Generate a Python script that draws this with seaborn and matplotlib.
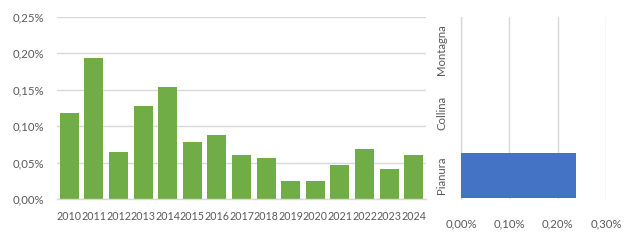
import matplotlib
matplotlib.use("Agg")
import matplotlib.pyplot as plt
from matplotlib.ticker import FuncFormatter, MultipleLocator
import seaborn as sns
import pandas as pd

years = ["2010", "2011", "2012", "2013", "2014", "2015", "2016", "2017",
         "2018", "2019", "2020", "2021", "2022", "2023", "2024"]
year_values = [0.118, 0.194, 0.065, 0.128, 0.154, 0.078, 0.088, 0.060,
               0.056, 0.025, 0.025, 0.047, 0.069, 0.041, 0.060]  # percent

zones = ["Montagna", "Collina", "Pianura"]
zone_values = [0.0, 0.0, 0.237]  # percent

GREEN = "#70AD47"
BLUE = "#4472C4"
TEXT = "#595959"
GRID = "#D9D9D9"

sns.set_theme(style="white")
plt.rcParams["font.family"] = ["Lato", "DejaVu Sans"]

fig = plt.figure(figsize=(6.3, 2.4), dpi=100)

def pct(v, _):
    return f"{v:.2f}%".replace(".", ",")

# Left chart
ax1 = fig.add_axes([57 / 630, 1 - 199 / 240, (426 - 57) / 630, (199 - 17) / 240])
df1 = pd.DataFrame({"year": years, "value": year_values})
sns.barplot(data=df1, x="year", y="value", ax=ax1, color=GREEN, width=0.78,
            saturation=1, linewidth=0)
ax1.set_ylim(0, 0.25)
ax1.set_xlim(-0.5, len(years) - 0.5)
ax1.yaxis.set_major_locator(MultipleLocator(0.05))
ax1.yaxis.set_major_formatter(FuncFormatter(pct))
ax1.grid(axis="y", color=GRID, linewidth=1)
ax1.set_axisbelow(True)
for s in ["top", "right", "left"]:
    ax1.spines[s].set_visible(False)
ax1.spines["bottom"].set_color(GRID)
ax1.spines["bottom"].set_linewidth(1)
ax1.set_xlabel("")
ax1.set_ylabel("")
ax1.tick_params(axis="both", length=0, colors=TEXT)
ax1.tick_params(axis="x", labelsize=7.7, pad=9)
ax1.tick_params(axis="y", labelsize=8.2, pad=9)

# Right chart
ax2 = fig.add_axes([461 / 630, 1 - 199 / 240, (606 - 461) / 630, (199 - 17) / 240])
df2 = pd.DataFrame({"zone": zones, "value": zone_values})
sns.barplot(data=df2, y="zone", x="value", ax=ax2, color=BLUE, width=0.72,
            saturation=1, orient="h", linewidth=0)
ax2.set_xlim(0, 0.30)
ax2.set_ylim(2.375, -0.526)
ax2.xaxis.set_major_locator(MultipleLocator(0.10))
ax2.xaxis.set_major_formatter(FuncFormatter(pct))
ax2.grid(axis="x", color=GRID, linewidth=1)
ax2.set_axisbelow(True)
ax2.axvline(0, color=GRID, linewidth=1, zorder=0.5, clip_on=False)
for s in ["top", "right", "left", "bottom"]:
    ax2.spines[s].set_visible(False)
ax2.set_xlabel("")
ax2.set_ylabel("")
ax2.tick_params(axis="both", length=0, colors=TEXT, labelsize=8.2)
ax2.tick_params(axis="x", pad=14)
ax2.tick_params(axis="y", pad=14)
for lab in ax2.get_yticklabels():
    lab.set_rotation(90)
    lab.set_va("center")
    lab.set_ha("center")
    lab.set_rotation_mode("anchor")

fig.savefig("out.png", dpi=100, facecolor="white")
